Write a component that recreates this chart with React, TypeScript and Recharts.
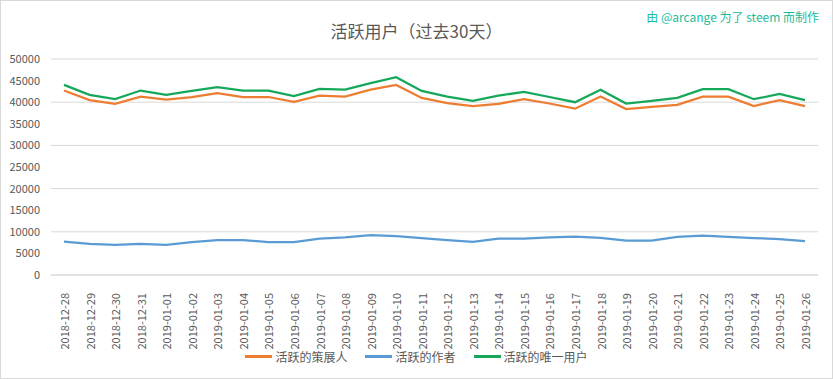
import { LineChart, Line, XAxis, YAxis, CartesianGrid } from "recharts";

const dates = [
  "2018-12-28", "2018-12-29", "2018-12-30", "2018-12-31", "2019-01-01",
  "2019-01-02", "2019-01-03", "2019-01-04", "2019-01-05", "2019-01-06",
  "2019-01-07", "2019-01-08", "2019-01-09", "2019-01-10", "2019-01-11",
  "2019-01-12", "2019-01-13", "2019-01-14", "2019-01-15", "2019-01-16",
  "2019-01-17", "2019-01-18", "2019-01-19", "2019-01-20", "2019-01-21",
  "2019-01-22", "2019-01-23", "2019-01-24", "2019-01-25", "2019-01-26"
];

// 活跃的策展人
const curators = [
  42700, 40500, 39600, 41300, 40600, 41200, 42100, 41200, 41200, 40100,
  41500, 41300, 42900, 44000, 41000, 39800, 39100, 39600, 40700, 39700,
  38500, 41300, 38400, 38900, 39400, 41300, 41300, 39100, 40500, 39100
];

// 活跃的作者
const authors = [
  7700, 7200, 6950, 7200, 6950, 7600, 8100, 8100, 7600, 7600,
  8400, 8700, 9250, 9000, 8550, 8100, 7650, 8400, 8400, 8700,
  8870, 8600, 7950, 7950, 8800, 9100, 8800, 8550, 8300, 7850
];

// 活跃的唯一用户
const uniqueUsers = [
  44000, 41700, 40700, 42700, 41700, 42600, 43500, 42700, 42700, 41400,
  43100, 42900, 44400, 45800, 42600, 41300, 40300, 41500, 42400, 41200,
  40000, 42900, 39700, 40300, 41000, 43000, 43000, 40700, 41900, 40500
];

const yTicks = [0, 5000, 10000, 15000, 20000, 25000, 30000, 35000, 40000, 45000, 50000];

const series = [
  { key: "curators", name: "活跃的策展人", color: "#ed7d31" },
  { key: "authors", name: "活跃的作者", color: "#5b9bd5" },
  { key: "unique", name: "活跃的唯一用户", color: "#16a85a" }
];

const data = dates.map((d, i) => ({
  date: d,
  curators: curators[i],
  authors: authors[i],
  unique: uniqueUsers[i]
}));

const FONT = "'Noto Sans CJK SC', 'Noto Sans', sans-serif";
const TEXT = "#595959";

function DateTick(props: any) {
  const { x, y, payload } = props;
  return (
    <text
      x={x}
      y={y + 10}
      transform={`rotate(-90, ${x}, ${y + 10})`}
      textAnchor="end"
      dominantBaseline="central"
      fontSize={11}
      fill={TEXT}
      fontFamily={FONT}
    >
      {payload.value}
    </text>
  );
}

export default function App() {
  return (
    <div style={{ position: "absolute", left: 0, top: 0, width: 833, height: 379, background: "#fff", fontFamily: FONT }}>
      <div
        style={{
          position: "absolute",
          left: 0,
          top: 0,
          width: 833,
          height: 379,
          boxSizing: "border-box",
          border: "1px solid #d9d9d9",
          pointerEvents: "none"
        }}
      />
      <div style={{ position: "absolute", left: 0, width: 833, top: 18, textAlign: "center", fontSize: 17, color: TEXT }}>
        活跃用户（过去30天）
      </div>
      <div style={{ position: "absolute", right: 14, top: 8, fontSize: 12, color: "#1abc9c" }}>
        由 @arcange 为了 steem 而制作
      </div>

      <LineChart width={833} height={379} data={data} margin={{ top: 59, right: 15, left: 0, bottom: 34 }}>
        <CartesianGrid vertical={false} stroke="#d9d9d9" />
        <XAxis
          dataKey="date"
          interval={0}
          height={70}
          padding={{ left: 13, right: 13 }}
          tickLine={false}
          stroke="#d9d9d9"
          tick={<DateTick />}
        />
        <YAxis
          width={51}
          domain={[0, 50000]}
          ticks={yTicks}
          axisLine={false}
          tickLine={false}
          tickSize={0}
          tickMargin={11}
          tick={{ fontSize: 11, fill: TEXT, fontFamily: FONT }}
        />
        {series.map((s) => (
          <Line
            key={s.key}
            dataKey={s.key}
            name={s.name}
            type="linear"
            stroke={s.color}
            strokeWidth={2.25}
            dot={false}
            isAnimationActive={false}
          />
        ))}
      </LineChart>

      <div
        style={{
          position: "absolute",
          left: 0,
          width: 833,
          top: 348,
          display: "flex",
          justifyContent: "center",
          gap: 18,
          fontSize: 12,
          color: TEXT
        }}
      >
        {series.map((s) => (
          <div key={s.key} style={{ display: "flex", alignItems: "center" }}>
            <span style={{ display: "inline-block", width: 27, height: 2.5, background: s.color, marginRight: 3 }} />
            <span>{s.name}</span>
          </div>
        ))}
      </div>
    </div>
  );
}
